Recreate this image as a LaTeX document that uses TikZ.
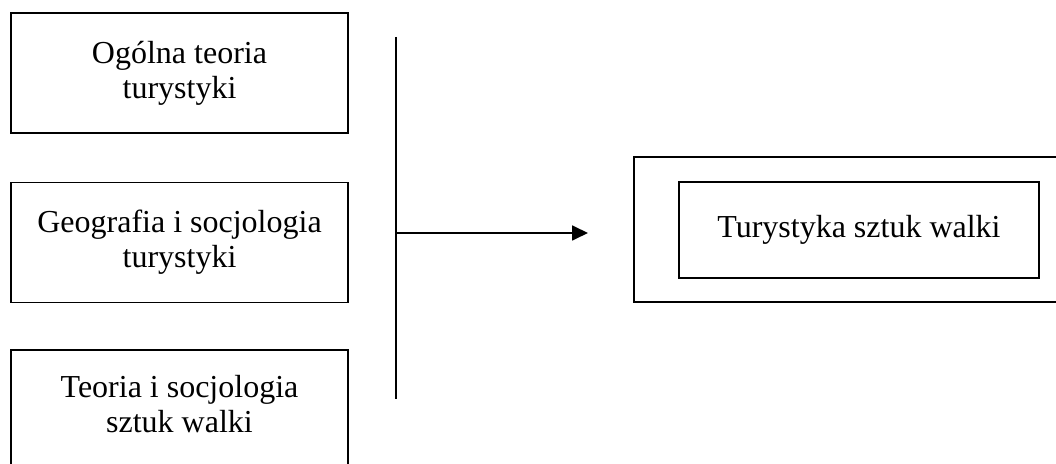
\documentclass[tikz,border=0pt]{standalone}
\usepackage{fontspec}
\setmainfont{Liberation Serif}
\usetikzlibrary{arrows.meta}

\tikzset{
  field/.style={draw, line width=0.9pt, inner sep=0pt, align=center,
    minimum width=168.5pt, minimum height=60pt,
    font=\fontsize{16}{17.5}\selectfont},
}

\begin{document}
\begin{tikzpicture}[x=0.5pt, y=-0.5pt]
      \useasboundingbox (0,0) rectangle (1056,464);
      \clip (0,0) rectangle (1056,464);

      \node[field] (ogolna) at (179.5,73) {Ogólna teoria\\turystyki};
      \node[field] (geo) at (179.5,242.5) {Geografia i socjologia\\turystyki};
      \node[field, minimum height=59pt,
        label={[font=\fontsize{16}{17.5}\selectfont, align=center, yshift=2.5pt]center:Teoria i socjologia\\sztuk walki}]
        (walki) at (179.5,409) {};

      \coordinate (bartop) at (396,37);
      \coordinate (barbot) at (396,399);
      \coordinate (barmid) at (396,233);
      \coordinate (tip) at (588,233);
      \draw[line width=0.9pt] (bartop) -- (barbot);
      \draw[line width=0.9pt,-{Triangle[length=8pt,width=7.5pt]}] (barmid) -- (tip);

      \node[field, minimum width=223pt, minimum height=72.5pt] (outer) at (857,229.5) {};
      \node[field, minimum width=180pt, minimum height=48pt] (tsw) at (859,230) {Turystyka sztuk walki};
    \end{tikzpicture}
\end{document}
